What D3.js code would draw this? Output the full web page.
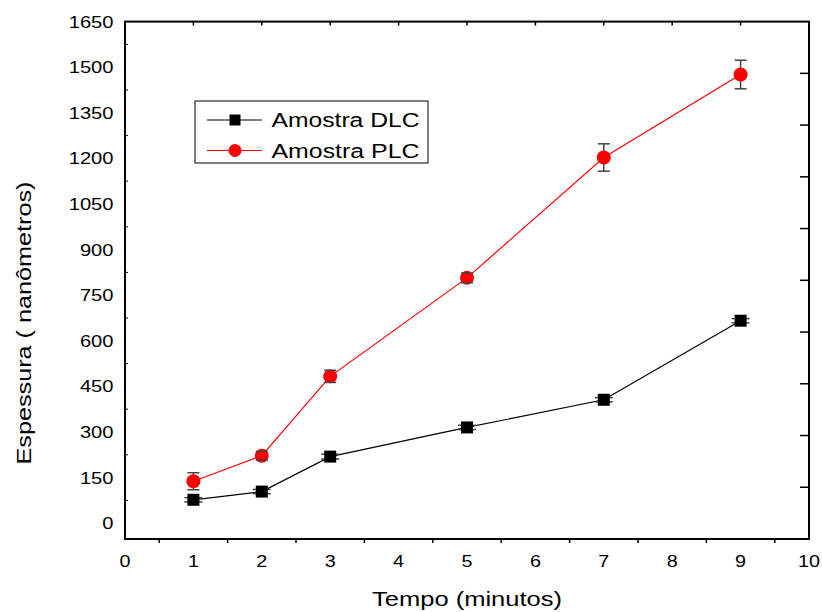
<!DOCTYPE html>
<html>
<head>
<meta charset="utf-8">
<script src="https://cdn.jsdelivr.net/npm/d3@7"></script>
<style>
  body { margin: 0; background: #fff; }
  text { font-family: "Liberation Sans", Arial, sans-serif; }
</style>
</head>
<body>
<svg id="chart" width="822" height="612"></svg>
<script>
// tempo (minutos)
const tempos = [1, 2, 3, 5, 7, 9];
const dlcValues = [77, 104, 219, 315, 406, 666];
const dlcErrors = [7, 7, 8, 7, 7, 7];
const plcValues = [138, 222, 483, 807, 1203, 1476];
const plcErrors = [28, 14, 20, 16, 45, 47];
const xTicks = [0, 1, 2, 3, 4, 5, 6, 7, 8, 9, 10];
const yTicks = [0, 150, 300, 450, 600, 750, 900, 1050, 1200, 1350, 1500, 1650];

const svg = d3.select("#chart");
const pLeft = 125, pRight = 809, pTop = 21.6, pBottom = 539;

const x = d3.scaleLinear().domain([0, 10]).range([pLeft, pRight]);
const y = d3.scaleLinear().domain([-52, 1650]).range([pBottom, pTop]);

// frame
svg.append("rect")
    .attr("x", pLeft).attr("y", pTop)
    .attr("width", pRight - pLeft).attr("height", pBottom - pTop)
    .attr("fill", "none").attr("stroke", "#000").attr("stroke-width", 2);

// bottom axis: labels at integers, outward ticks at half values
const gx = svg.append("g");
gx.selectAll(".lab").data(xTicks).enter().append("text")
    .attr("x", d => x(d)).attr("y", 567)
    .attr("text-anchor", "middle").attr("font-size", 17)
    .attr("textLength", d => String(d).length * 11)
    .attr("lengthAdjust", "spacingAndGlyphs")
    .text(d => d);
gx.selectAll(".mt").data(d3.range(0.5, 10, 1)).enter().append("line")
    .attr("x1", d => x(d)).attr("x2", d => x(d))
    .attr("y1", pBottom).attr("y2", pBottom + 4)
    .attr("stroke", "#000").attr("stroke-width", 1.5);

// top axis: inward ticks at integers
svg.selectAll(".tt").data(d3.range(1, 10)).enter().append("line")
    .attr("x1", d => x(d)).attr("x2", d => x(d))
    .attr("y1", pTop).attr("y2", pTop + 4)
    .attr("stroke", "#000").attr("stroke-width", 1.5);

// left axis
svg.selectAll(".yl").data(yTicks).enter().append("text")
    .attr("x", 113.5).attr("y", d => y(d) + 6)
    .attr("text-anchor", "end").attr("font-size", 17)
    .attr("textLength", d => String(d).length * 11.2)
    .attr("lengthAdjust", "spacingAndGlyphs")
    .text(d => d);
svg.selectAll(".ym").data(d3.range(75, 1650, 150)).enter().append("line")
    .attr("x1", pLeft).attr("x2", pLeft + 3)
    .attr("y1", d => y(d)).attr("y2", d => y(d))
    .attr("stroke", "#000").attr("stroke-width", 1);

// right axis: inward ticks dividing the side in ten
const yr = d3.scaleLinear().domain([0, 10]).range([pBottom, pTop]);
svg.selectAll(".rt").data(d3.range(1, 10)).enter().append("line")
    .attr("x1", pRight - 9).attr("x2", pRight)
    .attr("y1", d => yr(d)).attr("y2", d => yr(d))
    .attr("stroke", "#000").attr("stroke-width", 1.5);

// axis titles
svg.append("text")
    .attr("x", 467).attr("y", 606)
    .attr("text-anchor", "middle").attr("font-size", 20)
    .attr("textLength", 190).attr("lengthAdjust", "spacingAndGlyphs")
    .text("Tempo (minutos)");
svg.append("text")
    .attr("transform", "translate(31,323) rotate(-90)")
    .attr("text-anchor", "middle").attr("font-size", 21)
    .attr("textLength", 283).attr("lengthAdjust", "spacingAndGlyphs")
    .text("Espessura ( nanômetros)");

function series(values, errors, color, shape) {
  const pts = tempos.map((t, i) => ({t: t, v: values[i], e: errors[i]}));
  const line = d3.line().x(d => x(d.t)).y(d => y(d.v));
  svg.append("path").datum(pts)
      .attr("d", line).attr("fill", "none")
      .attr("stroke", color).attr("stroke-width", 1.2);
  const g = svg.append("g");
  const cap = shape === "square" ? 9 : 6;
  pts.forEach(d => {
    g.append("line")
        .attr("x1", x(d.t)).attr("x2", x(d.t))
        .attr("y1", y(d.v - d.e)).attr("y2", y(d.v + d.e))
        .attr("stroke", "#444").attr("stroke-width", 1.5);
    const caps = () => [d.v - d.e, d.v + d.e].forEach(v => {
      g.append("line")
          .attr("x1", x(d.t) - cap).attr("x2", x(d.t) + cap)
          .attr("y1", y(v)).attr("y2", y(v))
          .attr("stroke", "#444").attr("stroke-width", 1.5);
    });
    if (shape === "square") {
      caps();
      g.append("rect")
          .attr("x", x(d.t) - 6).attr("y", y(d.v) - 6)
          .attr("width", 12).attr("height", 12).attr("fill", color);
    } else {
      g.append("circle")
          .attr("cx", x(d.t)).attr("cy", y(d.v)).attr("r", 7)
          .attr("fill", color);
      caps();
    }
  });
}

series(dlcValues, dlcErrors, "#000", "square");
series(plcValues, plcErrors, "#ff0000", "circle");

// legend
const lg = svg.append("g");
lg.append("rect")
    .attr("x", 195).attr("y", 101).attr("width", 233).attr("height", 62)
    .attr("fill", "#fff").attr("stroke", "#000").attr("stroke-width", 1);
const legendItems = [
  {name: "Amostra DLC", color: "#000", shape: "square", y: 120},
  {name: "Amostra PLC", color: "#ff0000", shape: "circle", y: 150.5}
];
legendItems.forEach(it => {
  lg.append("line")
      .attr("x1", 207).attr("x2", 262).attr("y1", it.y).attr("y2", it.y)
      .attr("stroke", it.color).attr("stroke-width", 1);
  if (it.shape === "square") {
    lg.append("rect").attr("x", 229.5).attr("y", it.y - 5.5)
        .attr("width", 11).attr("height", 11).attr("fill", it.color);
  } else {
    lg.append("circle").attr("cx", 235).attr("cy", it.y).attr("r", 6.5)
        .attr("fill", it.color);
  }
  lg.append("text")
      .attr("x", 271.5).attr("y", it.y + 7)
      .attr("font-size", 20)
      .attr("textLength", 148).attr("lengthAdjust", "spacingAndGlyphs")
      .text(it.name);
});
</script>
</body>
</html>
